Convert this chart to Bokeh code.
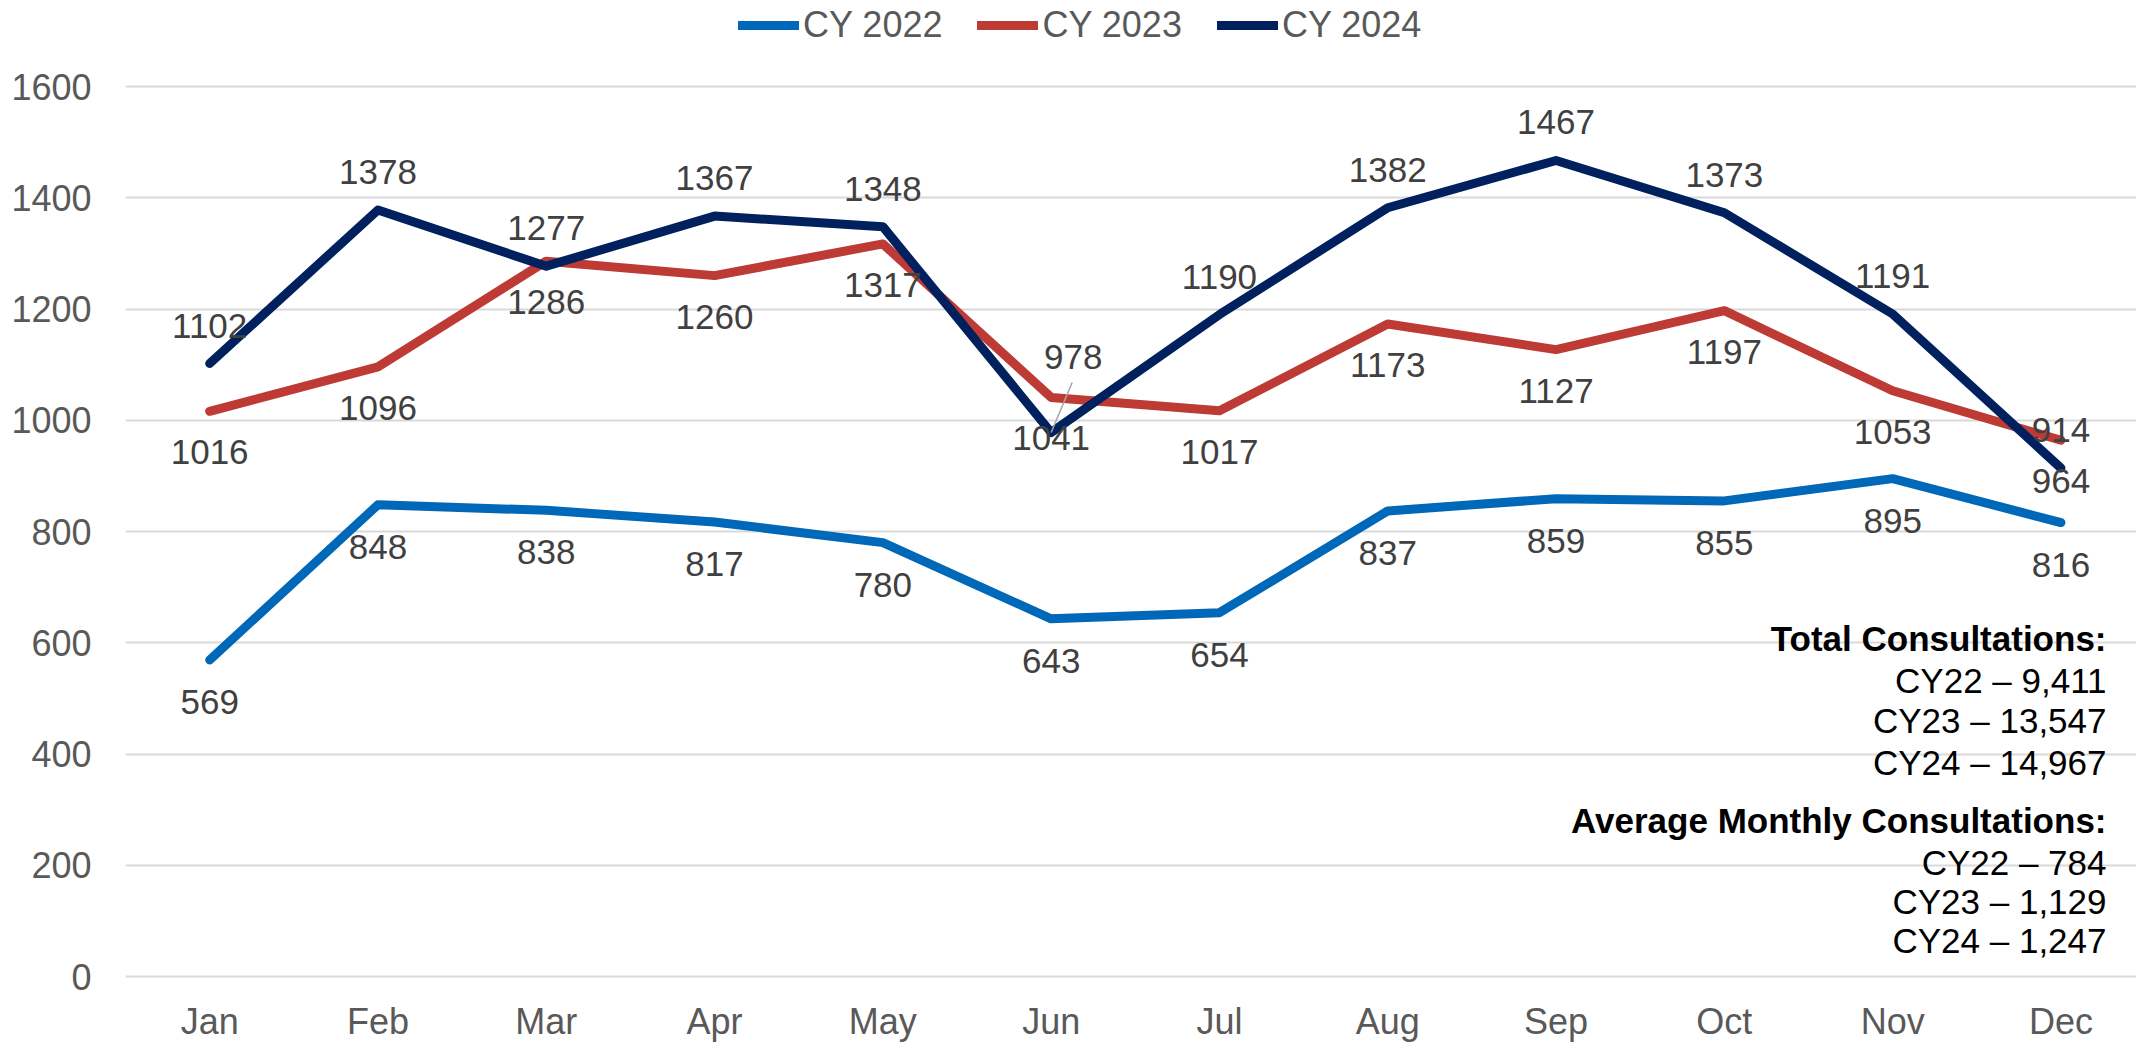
from bokeh.plotting import figure
from bokeh.models import Range1d, FixedTicker, Legend, LegendItem, Label
from bokeh.core.properties import value
from bokeh.embed import file_html
from bokeh.resources import INLINE

# ---------------- data ----------------
months = ["Jan", "Feb", "Mar", "Apr", "May", "Jun", "Jul", "Aug", "Sep", "Oct", "Nov", "Dec"]
cy2022 = [569, 848, 838, 817, 780, 643, 654, 837, 859, 855, 895, 816]
cy2023 = [1016, 1096, 1286, 1260, 1317, 1041, 1017, 1173, 1127, 1197, 1053, 964]
cy2024 = [1102, 1378, 1277, 1367, 1348, 978, 1190, 1382, 1467, 1373, 1191, 914]
series_names = ["CY 2022", "CY 2023", "CY 2024"]
yticks = [0, 200, 400, 600, 800, 1000, 1200, 1400, 1600]
total_title = "Total Consultations:"
total_lines = ["CY22 \u2013 9,411", "CY23 \u2013 13,547", "CY24 \u2013 14,967"]
avg_title = "Average Monthly Consultations:"
avg_lines = ["CY22 \u2013 784", "CY23 \u2013 1,129", "CY24 \u2013 1,247"]

# ---------------- layout / style ----------------
FONT = "Liberation Sans"
colors = ["#0068B8", "#BE3A34", "#00215E"]
W, H = 2136, 1042
LEFT = 125              # frame left (px)
ZERO_Y = 976            # pixel row of value 0
PX_PER_X = 168.3
PX_PER_Y = 111.25 / 200.0
x = list(range(len(months)))

p = figure(width=W, height=H, output_backend="svg", toolbar_location=None,
           x_range=Range1d(-0.5, -0.5 + (W - LEFT) / PX_PER_X),
           y_range=Range1d((ZERO_Y - H) / PX_PER_Y, ZERO_Y / PX_PER_Y),
           min_border_left=LEFT, min_border_right=0, min_border_top=0, min_border_bottom=0)
p.outline_line_color = None
p.background_fill_color = "white"
p.border_fill_color = "white"

# y axis
yax = p.yaxis[0]
yax.ticker = FixedTicker(ticks=yticks)
yax.axis_line_color = None
yax.major_tick_line_color = None
yax.minor_tick_line_color = None
yax.major_tick_out = 0
yax.major_label_text_font = FONT
yax.major_label_text_font_size = "36px"
yax.major_label_text_color = "#595959"
yax.major_label_standoff = 34

# x axis drawn as text under the zero line (keeps the frame large enough)
p.xaxis.visible = False

p.xgrid.grid_line_color = None
p.ygrid.ticker = FixedTicker(ticks=yticks)
p.ygrid.grid_line_color = "#d9d9d9"
p.ygrid.grid_line_width = 2

p.text(x, [0] * len(x), text=months, y_offset=45, text_align="center", text_baseline="middle",
       text_font=value(FONT), text_font_size="36px", text_color="#595959")

# lines
renderers = []
for vals, c in zip([cy2022, cy2023, cy2024], colors):
    r = p.line(x, vals, line_color=c, line_width=9, line_cap="round", line_join="round")
    renderers.append(r)

# leader line for Jun CY2024 label
j = months.index("Jun")
lead_dx, lead_dy = 21, 50
p.segment(x0=[x[j]], y0=[cy2024[j]], x1=[x[j] + lead_dx / PX_PER_X], y1=[cy2024[j] + lead_dy / PX_PER_Y],
          line_color="#a6a6a6", line_width=1.5)

# data labels
lab_kw = dict(text_align="center", text_baseline="middle", text_font_size="35px",
              text_color="#404040", text_font=value(FONT))
p.text(x, cy2022, text=[str(v) for v in cy2022], y_offset=42, **lab_kw)
p.text(x, cy2023, text=[str(v) for v in cy2023], y_offset=41, **lab_kw)
idx_n = [i for i in x if i != j]
p.text([x[i] for i in idx_n], [cy2024[i] for i in idx_n], text=[str(cy2024[i]) for i in idx_n],
       y_offset=-38, **lab_kw)
p.text([x[j]], [cy2024[j]], text=[str(cy2024[j])], x_offset=22, y_offset=-75, **lab_kw)

# legend
legend = Legend(items=[LegendItem(label=n, renderers=[r]) for n, r in zip(series_names, renderers)],
                orientation="horizontal", location=(613, 996),
                label_text_font=FONT, label_text_font_size="36px", label_text_color="#595959",
                glyph_width=61, glyph_height=40, label_height=40, label_standoff=4, spacing=35,
                padding=0, margin=0, border_line_color=None, background_fill_alpha=0)
p.add_layout(legend, "center")

# summary text block (right aligned)
right_x = -0.5 + (2106 - LEFT) / PX_PER_X
def ydata(page_y):
    return (ZERO_Y - page_y) / PX_PER_Y

blocks = [(total_title, True)] + [(t, False) for t in total_lines] + [(avg_title, True)] + [(t, False) for t in avg_lines]
page_ys = [638, 680, 720, 762, 820, 862, 901, 940]
for (txt, bold), py in zip(blocks, page_ys):
    p.add_layout(Label(x=right_x, y=ydata(py), text=txt, text_align="right", text_baseline="middle",
                       text_font=FONT, text_font_size="35px", text_color="black",
                       text_font_style="bold" if bold else "normal"))

open("out.html", "w").write(file_html(p, INLINE))
